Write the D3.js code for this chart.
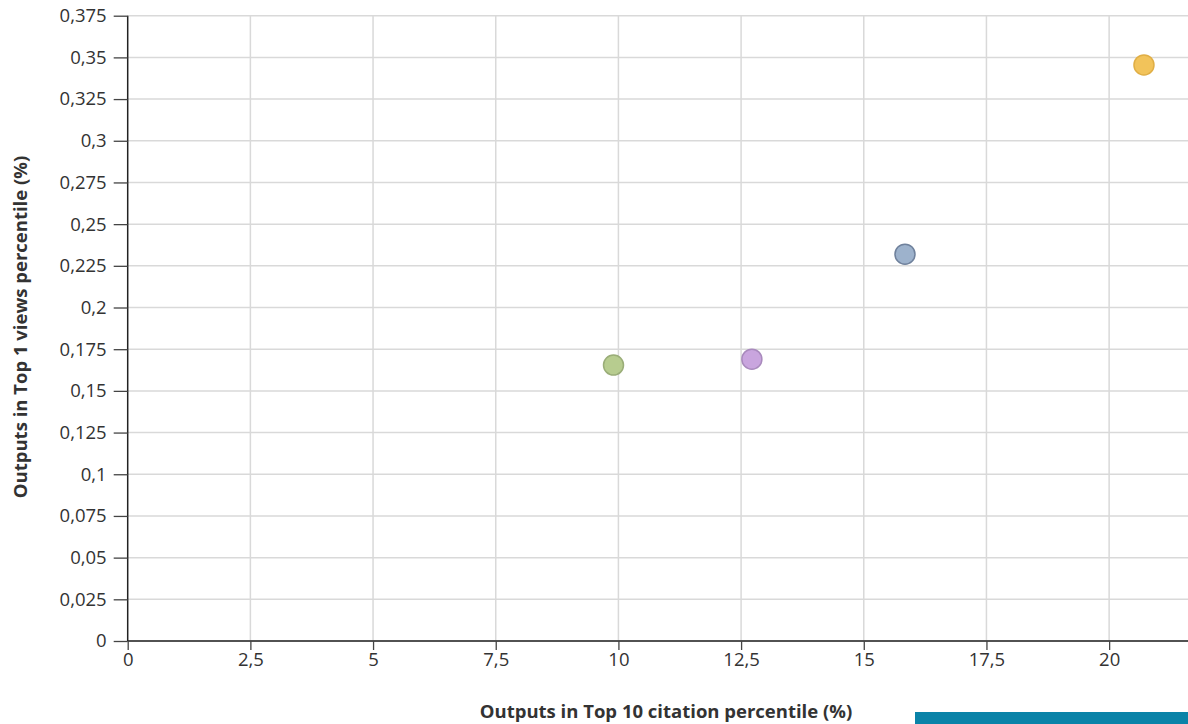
<!DOCTYPE html>
<html>
<head>
<meta charset="utf-8">
<script src="https://cdn.jsdelivr.net/npm/d3@7"></script>
<style>
  body { margin: 0; background: #fff; }
  svg { display: block; font-family: "Open Sans", sans-serif; }
</style>
</head>
<body>
<svg id="chart" width="1188" height="724"></svg>
<script>
// データ
const groups = ["A", "B", "C", "D"];
const citationTop10 = [9.9, 12.72, 15.84, 20.71];
const viewsTop1 = [0.1655, 0.169, 0.232, 0.3455];
const pointColors = ["#b7cc8f", "#c9a5de", "#9db2cc", "#f2c35a"];
const pointStrokes = ["#9aad78", "#a98abd", "#6f819c", "#e0ae45"];

const xTicks = [0, 2.5, 5, 7.5, 10, 12.5, 15, 17.5, 20];
const yTicks = [0, 0.025, 0.05, 0.075, 0.1, 0.125, 0.15, 0.175, 0.2, 0.225, 0.25, 0.275, 0.3, 0.325, 0.35, 0.375];

const xTitle = "Outputs in Top 10 citation percentile (%)";
const yTitle = "Outputs in Top 1 views percentile (%)";

function main() {
    const svg = d3.select("#chart");
    const left = 127.7, top = 15.7, bottom = 641, right = 1195;
    const fontSize = 18.5;

    // 小数点はカンマ
    const locale = d3.formatLocale({ decimal: ",", thousands: ".", grouping: [3], currency: ["", "€"] });
    const fmt = locale.format("~g");

    const x = d3.scaleLinear().domain([0, 21.75]).range([left, right]);
    const y = d3.scaleLinear().domain([0, 0.375]).range([bottom, top]);

    // グリッド
    svg.append("g")
        .selectAll("line.h")
        .data(yTicks)
        .join("line")
        .attr("x1", left).attr("x2", right)
        .attr("y1", d => y(d)).attr("y2", d => y(d))
        .attr("stroke", "#d9d9d9").attr("stroke-width", 1.5);
    svg.append("g")
        .selectAll("line.v")
        .data(xTicks.slice(1))
        .join("line")
        .attr("x1", d => x(d)).attr("x2", d => x(d))
        .attr("y1", top).attr("y2", bottom)
        .attr("stroke", "#d9d9d9").attr("stroke-width", 1.5);

    // y軸
    const yAxis = svg.append("g")
        .attr("transform", `translate(${left},0)`)
        .call(d3.axisLeft(y).tickValues(yTicks).tickFormat(fmt).tickSize(14).tickPadding(7));
    yAxis.select(".domain").attr("stroke", "#222").attr("stroke-width", 1.5).attr("d", `M0,${top}V${bottom}`);
    yAxis.selectAll(".tick line").attr("stroke", "#444").attr("stroke-width", 1.3);
    yAxis.selectAll("text").attr("font-size", fontSize).attr("fill", "#333").attr("font-family", "Open Sans");

    // x軸
    const xAxis = svg.append("g")
        .attr("transform", `translate(0,${bottom})`)
        .call(d3.axisBottom(x).tickValues(xTicks).tickFormat(fmt).tickSize(9).tickPadding(3));
    xAxis.select(".domain").attr("stroke", "#222").attr("stroke-width", 1.5).attr("d", `M${left},0H${right}`);
    xAxis.selectAll(".tick line").attr("stroke", "#444").attr("stroke-width", 1.3);
    xAxis.selectAll("text").attr("font-size", fontSize).attr("fill", "#333").attr("font-family", "Open Sans");

    // タイトル
    svg.append("text")
        .attr("x", 666)
        .attr("y", 718)
        .attr("text-anchor", "middle")
        .attr("font-size", fontSize).attr("font-weight", "bold").attr("fill", "#333")
        .text(xTitle);
    svg.append("text")
        .attr("transform", `translate(27,327) rotate(-90)`)
        .attr("text-anchor", "middle")
        .attr("font-size", fontSize).attr("font-weight", "bold").attr("fill", "#333")
        .text(yTitle);

    // 点
    svg.append("g")
        .selectAll("circle")
        .data(groups)
        .join("circle")
        .attr("cx", (d, i) => x(citationTop10[i]))
        .attr("cy", (d, i) => y(viewsTop1[i]))
        .attr("r", 10)
        .attr("fill", (d, i) => pointColors[i])
        .attr("stroke", (d, i) => pointStrokes[i])
        .attr("stroke-width", 1.5);

    // 右下のボタン
    svg.append("rect")
        .attr("x", 915).attr("y", 712)
        .attr("width", 273).attr("height", 12)
        .attr("fill", "#0a83a8");
}

main();
</script>
</body>
</html>
